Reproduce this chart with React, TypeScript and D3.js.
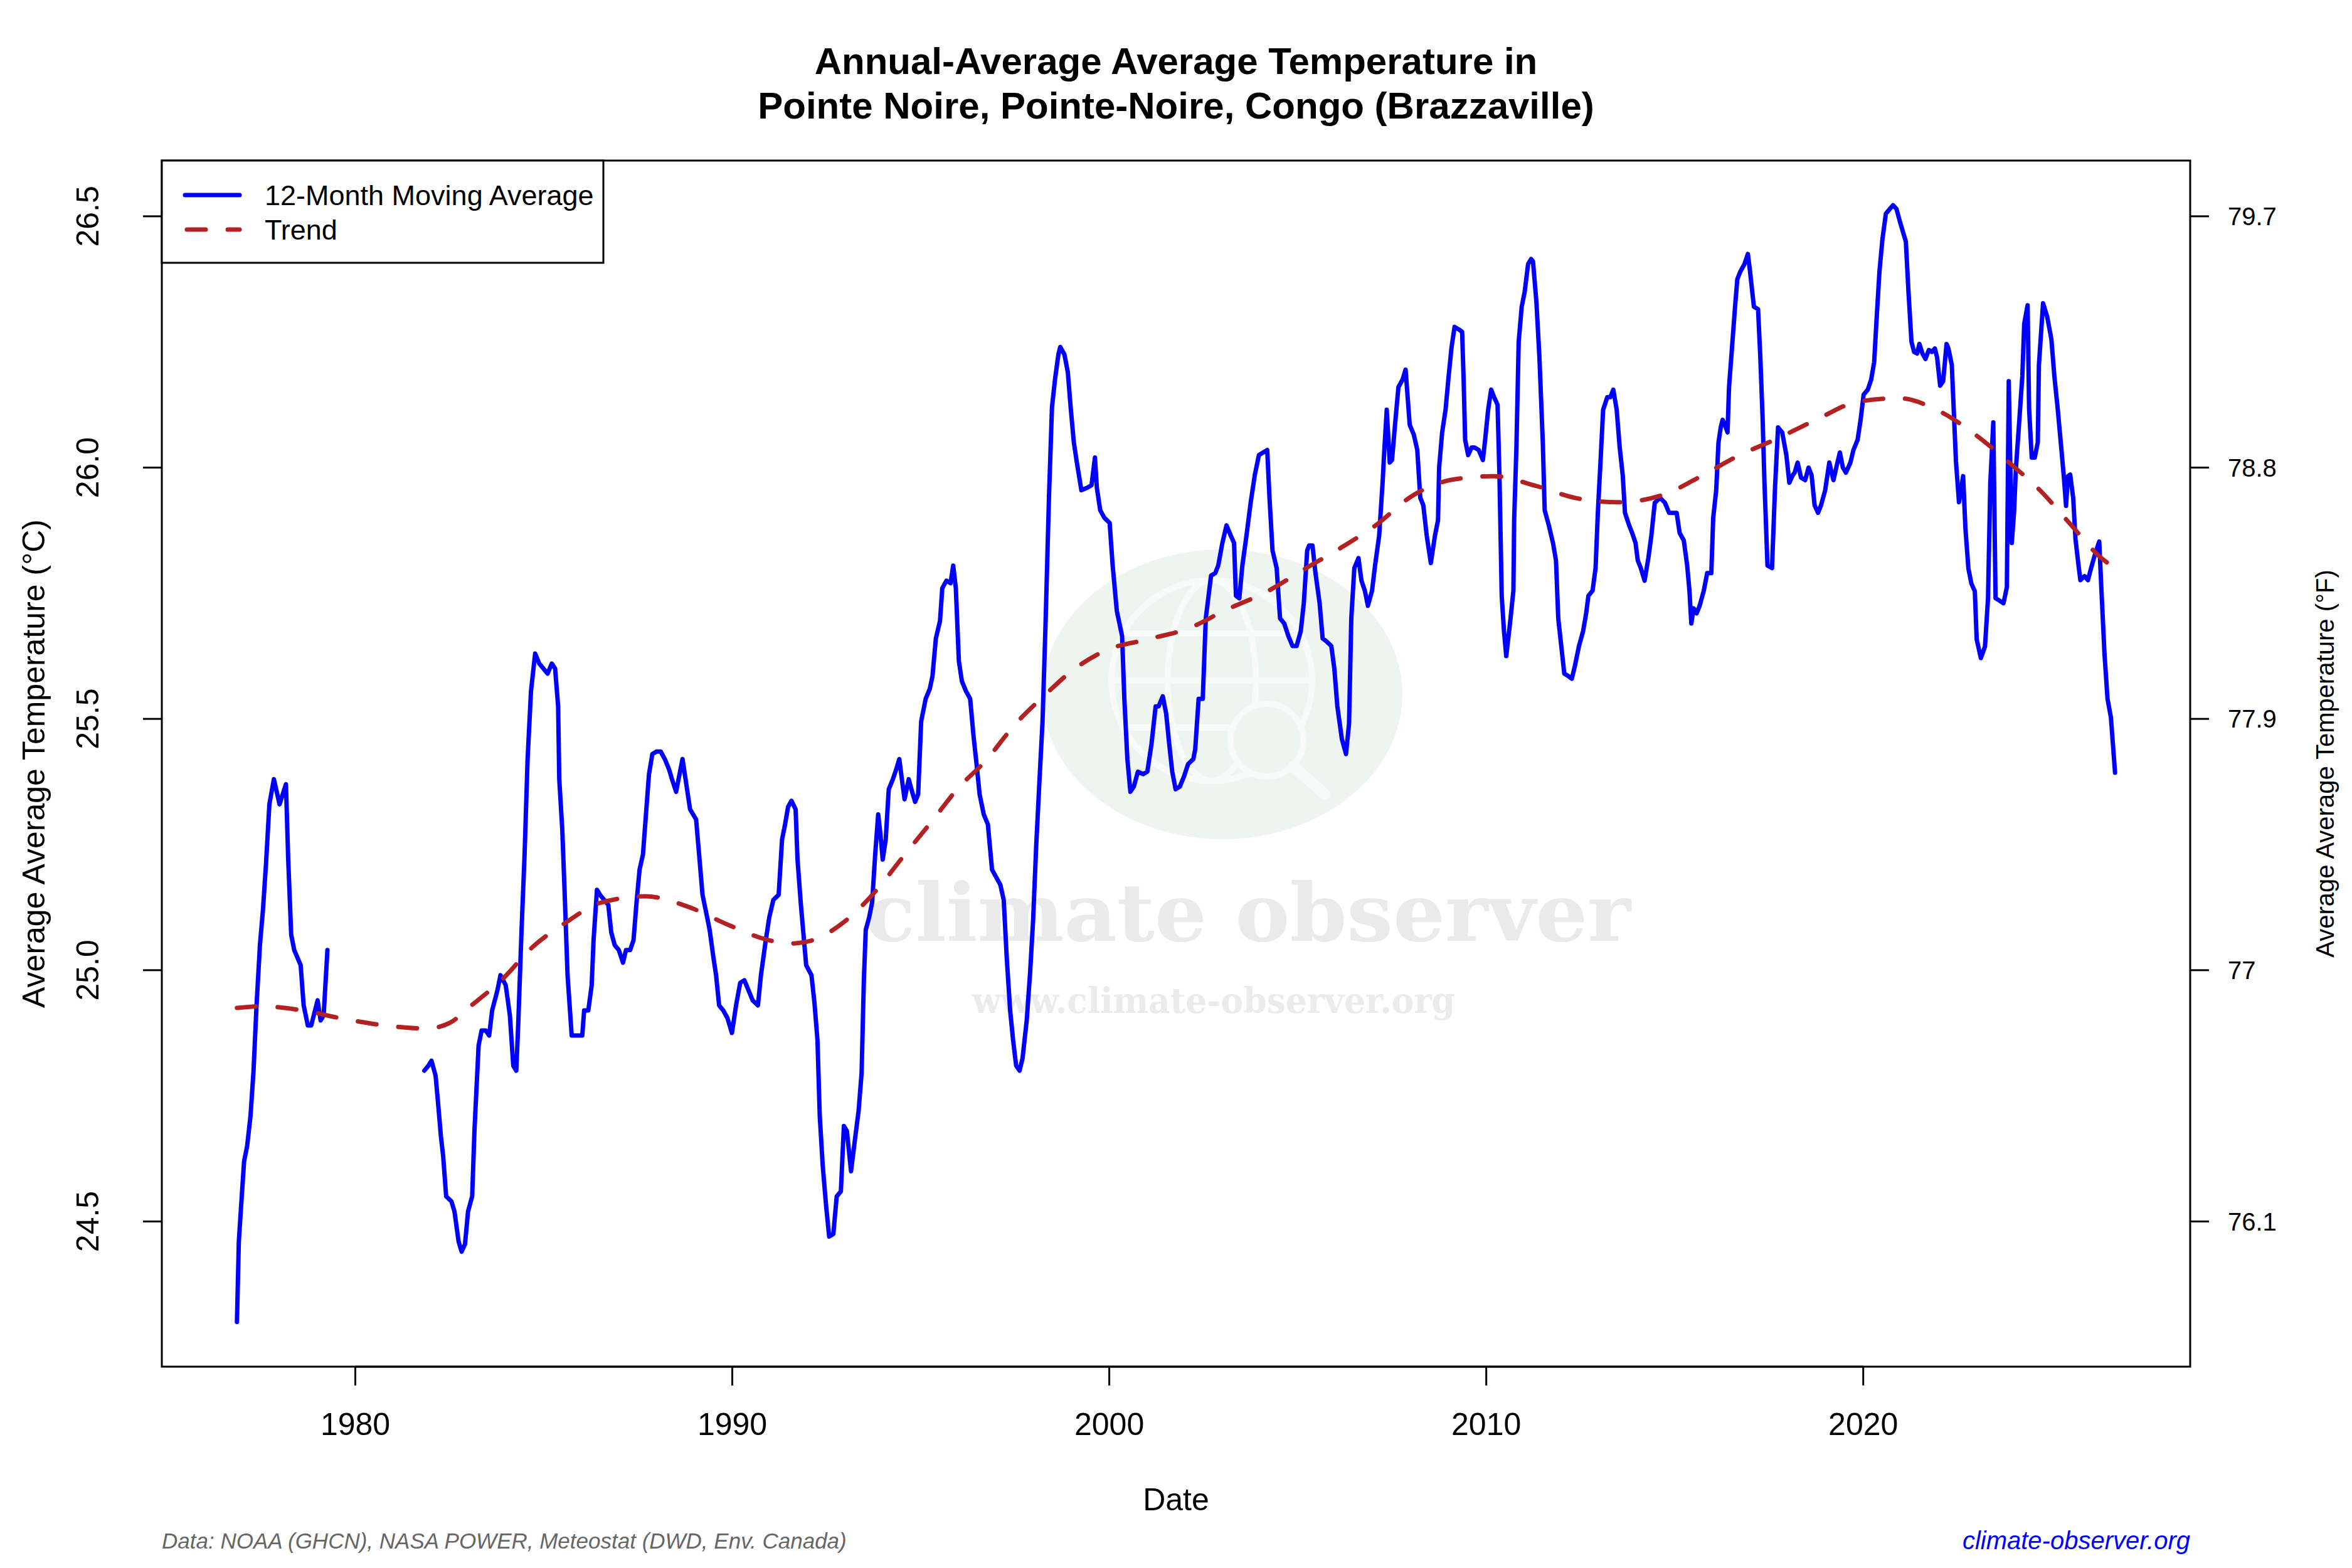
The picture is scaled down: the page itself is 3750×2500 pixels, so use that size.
import React from 'react';
import * as d3 from 'd3';

// 12-month moving average: [decimal year, °C]
const ma1977 = [
  [1976.86, 24.30], [1976.91, 24.46], [1976.97, 24.53], [1977.05, 24.62], [1977.13, 24.65], [1977.22, 24.71],
  [1977.30, 24.80], [1977.38, 24.93], [1977.47, 25.05], [1977.55, 25.12], [1977.63, 25.21], [1977.72, 25.33],
  [1977.84, 25.38], [1977.99, 25.33], [1978.16, 25.37], [1978.22, 25.22], [1978.30, 25.07], [1978.38, 25.04],
  [1978.55, 25.01], [1978.63, 24.93], [1978.74, 24.89], [1978.83, 24.89], [1979.00, 24.94], [1979.08, 24.90],
  [1979.16, 24.91], [1979.26, 25.04]
];

const ma1980s = [
  [1981.83, 24.80], [1981.94, 24.81], [1982.02, 24.82], [1982.13, 24.79], [1982.19, 24.74], [1982.27, 24.67],
  [1982.33, 24.63], [1982.41, 24.55], [1982.55, 24.54], [1982.63, 24.52], [1982.74, 24.46], [1982.82, 24.44],
  [1982.91, 24.455], [1982.99, 24.52], [1983.10, 24.55], [1983.16, 24.68], [1983.27, 24.85], [1983.35, 24.88],
  [1983.46, 24.88], [1983.55, 24.87], [1983.63, 24.92], [1983.77, 24.96], [1983.85, 24.99], [1983.99, 24.97],
  [1984.10, 24.91], [1984.19, 24.81], [1984.27, 24.80], [1984.32, 24.89], [1984.41, 25.08], [1984.49, 25.23],
  [1984.57, 25.42], [1984.66, 25.555], [1984.77, 25.63], [1984.88, 25.61], [1984.99, 25.60], [1985.10, 25.59],
  [1985.21, 25.61], [1985.30, 25.60], [1985.38, 25.525], [1985.41, 25.38], [1985.49, 25.28], [1985.55, 25.16],
  [1985.63, 24.99], [1985.74, 24.87], [1985.91, 24.87], [1986.02, 24.87], [1986.07, 24.92], [1986.18, 24.92],
  [1986.27, 24.97], [1986.32, 25.06], [1986.41, 25.16], [1986.49, 25.15], [1986.60, 25.14], [1986.71, 25.13],
  [1986.79, 25.075], [1986.88, 25.05], [1986.99, 25.04], [1987.10, 25.015], [1987.18, 25.04], [1987.29, 25.04],
  [1987.38, 25.06], [1987.46, 25.135], [1987.54, 25.20], [1987.63, 25.23], [1987.71, 25.31], [1987.79, 25.39],
  [1987.88, 25.43], [1987.99, 25.435], [1988.10, 25.435], [1988.21, 25.42], [1988.32, 25.40], [1988.40, 25.38],
  [1988.51, 25.355], [1988.60, 25.39], [1988.68, 25.42], [1988.76, 25.38], [1988.88, 25.32], [1988.96, 25.31],
  [1989.04, 25.30], [1989.12, 25.23], [1989.21, 25.15], [1989.32, 25.11], [1989.40, 25.08], [1989.49, 25.03],
  [1989.57, 24.99], [1989.65, 24.93], [1989.76, 24.92], [1989.87, 24.905], [1989.99, 24.875]
];

const ma1990s = [
  [1990.10, 24.93], [1990.21, 24.975], [1990.32, 24.98], [1990.43, 24.96], [1990.54, 24.94], [1990.68, 24.93],
  [1990.76, 24.99], [1990.87, 25.05], [1990.98, 25.105], [1991.09, 25.14], [1991.23, 25.15], [1991.32, 25.26],
  [1991.40, 25.29], [1991.48, 25.325], [1991.57, 25.337], [1991.68, 25.32], [1991.73, 25.22], [1991.82, 25.13],
  [1991.96, 25.01], [1992.10, 24.99], [1992.18, 24.935], [1992.26, 24.86], [1992.32, 24.71], [1992.40, 24.61],
  [1992.49, 24.53], [1992.57, 24.47], [1992.68, 24.475], [1992.77, 24.55], [1992.88, 24.56], [1992.96, 24.69],
  [1993.04, 24.68], [1993.15, 24.60], [1993.24, 24.655], [1993.35, 24.72], [1993.43, 24.795], [1993.49, 24.98],
  [1993.54, 25.08], [1993.63, 25.105], [1993.71, 25.135], [1993.79, 25.23], [1993.87, 25.31], [1993.93, 25.27],
  [1993.99, 25.22], [1994.07, 25.26], [1994.15, 25.36], [1994.26, 25.38], [1994.35, 25.40], [1994.43, 25.42],
  [1994.49, 25.385], [1994.57, 25.34], [1994.68, 25.38], [1994.77, 25.355], [1994.85, 25.335], [1994.93, 25.35],
  [1995.01, 25.495], [1995.13, 25.54], [1995.24, 25.56], [1995.31, 25.585], [1995.40, 25.66], [1995.51, 25.695],
  [1995.57, 25.76], [1995.68, 25.775], [1995.79, 25.77], [1995.86, 25.805], [1995.93, 25.76], [1996.01, 25.615],
  [1996.09, 25.575], [1996.20, 25.555], [1996.31, 25.54], [1996.40, 25.465], [1996.48, 25.41], [1996.56, 25.35],
  [1996.67, 25.31], [1996.78, 25.29], [1996.89, 25.20], [1997.00, 25.185], [1997.11, 25.17], [1997.20, 25.14],
  [1997.28, 25.025], [1997.37, 24.92], [1997.45, 24.86], [1997.53, 24.81], [1997.62, 24.80], [1997.70, 24.825],
  [1997.81, 24.90], [1997.90, 24.995], [1997.98, 25.10], [1998.06, 25.245], [1998.15, 25.38], [1998.23, 25.495],
  [1998.31, 25.69], [1998.40, 25.94], [1998.48, 26.12], [1998.56, 26.175], [1998.65, 26.225], [1998.70, 26.24],
  [1998.81, 26.225], [1998.90, 26.19], [1998.98, 26.116], [1999.06, 26.05], [1999.14, 26.01], [1999.26, 25.955],
  [1999.42, 25.96], [1999.53, 25.965], [1999.62, 26.02], [1999.67, 25.96], [1999.76, 25.915], [1999.87, 25.90]
];

const ma2000s = [
  [2000.01, 25.89], [2000.09, 25.805], [2000.20, 25.715], [2000.34, 25.665], [2000.40, 25.54], [2000.48, 25.42],
  [2000.56, 25.355], [2000.65, 25.365], [2000.76, 25.395], [2000.90, 25.39], [2001.01, 25.395], [2001.12, 25.45],
  [2001.23, 25.525], [2001.31, 25.525], [2001.42, 25.545], [2001.51, 25.51], [2001.59, 25.45], [2001.67, 25.395],
  [2001.76, 25.36], [2001.87, 25.365], [2001.98, 25.385], [2002.09, 25.41], [2002.23, 25.42], [2002.28, 25.44],
  [2002.37, 25.54], [2002.48, 25.54], [2002.56, 25.70], [2002.70, 25.785], [2002.81, 25.79], [2002.89, 25.805],
  [2003.00, 25.85], [2003.11, 25.885], [2003.22, 25.865], [2003.31, 25.85], [2003.36, 25.745], [2003.45, 25.74],
  [2003.53, 25.805], [2003.64, 25.865], [2003.75, 25.93], [2003.86, 25.985], [2003.97, 26.025], [2004.08, 26.03],
  [2004.19, 26.035], [2004.25, 25.94], [2004.33, 25.835], [2004.44, 25.80], [2004.53, 25.70], [2004.64, 25.69],
  [2004.75, 25.665], [2004.86, 25.645], [2004.97, 25.645], [2005.08, 25.675], [2005.16, 25.73], [2005.25, 25.835],
  [2005.30, 25.845], [2005.39, 25.845], [2005.47, 25.79], [2005.58, 25.73], [2005.66, 25.66], [2005.75, 25.655],
  [2005.89, 25.645], [2005.97, 25.60], [2006.05, 25.525], [2006.17, 25.46], [2006.28, 25.43], [2006.36, 25.49],
  [2006.42, 25.70], [2006.50, 25.80], [2006.61, 25.82], [2006.69, 25.775], [2006.78, 25.755], [2006.86, 25.725],
  [2006.97, 25.755], [2007.05, 25.805], [2007.16, 25.865], [2007.25, 25.97], [2007.30, 26.04], [2007.36, 26.115],
  [2007.44, 26.01], [2007.50, 26.015], [2007.58, 26.085], [2007.67, 26.16], [2007.78, 26.175], [2007.86, 26.195],
  [2007.97, 26.085], [2008.08, 26.065], [2008.17, 26.035], [2008.25, 25.94], [2008.33, 25.925], [2008.42, 25.865],
  [2008.53, 25.81], [2008.64, 25.865], [2008.72, 25.895], [2008.75, 26.0], [2008.83, 26.07], [2008.92, 26.115],
  [2009.00, 26.18], [2009.08, 26.24], [2009.16, 26.28], [2009.27, 26.275], [2009.36, 26.27], [2009.40, 26.175],
  [2009.44, 26.055], [2009.52, 26.025], [2009.61, 26.04], [2009.69, 26.04], [2009.80, 26.035], [2009.91, 26.015]
];

const ma2010s = [
  [2009.97, 26.055], [2010.05, 26.115], [2010.13, 26.155], [2010.21, 26.14], [2010.30, 26.125], [2010.35, 25.985],
  [2010.41, 25.745], [2010.47, 25.675], [2010.53, 25.625], [2010.63, 25.69], [2010.72, 25.755], [2010.74, 25.895],
  [2010.80, 26.04], [2010.86, 26.25], [2010.94, 26.32], [2011.02, 26.35], [2011.11, 26.405], [2011.19, 26.415],
  [2011.24, 26.41], [2011.33, 26.33], [2011.41, 26.22], [2011.50, 26.05], [2011.55, 25.915], [2011.66, 25.885],
  [2011.77, 25.85], [2011.85, 25.815], [2011.91, 25.70], [2011.99, 25.645], [2012.07, 25.59], [2012.18, 25.585],
  [2012.27, 25.58], [2012.35, 25.605], [2012.46, 25.645], [2012.57, 25.675], [2012.65, 25.71], [2012.71, 25.745],
  [2012.82, 25.755], [2012.90, 25.80], [2012.96, 25.91], [2013.04, 26.025], [2013.10, 26.115], [2013.21, 26.14],
  [2013.29, 26.14], [2013.37, 26.155], [2013.46, 26.115], [2013.54, 26.04], [2013.62, 25.985], [2013.68, 25.91],
  [2013.79, 25.885], [2013.87, 25.87], [2013.96, 25.85], [2014.02, 25.815], [2014.10, 25.80], [2014.20, 25.775],
  [2014.30, 25.82], [2014.38, 25.865], [2014.47, 25.93], [2014.61, 25.94], [2014.74, 25.93], [2014.85, 25.91],
  [2014.94, 25.91], [2015.05, 25.91], [2015.13, 25.87], [2015.24, 25.855], [2015.33, 25.805], [2015.39, 25.755],
  [2015.44, 25.69], [2015.50, 25.72], [2015.58, 25.71], [2015.66, 25.725], [2015.77, 25.755], [2015.86, 25.79],
  [2015.97, 25.79], [2016.02, 25.90], [2016.10, 25.955], [2016.16, 26.05], [2016.22, 26.08], [2016.27, 26.095],
  [2016.33, 26.085], [2016.40, 26.07], [2016.44, 26.16], [2016.52, 26.24], [2016.60, 26.32], [2016.66, 26.375],
  [2016.74, 26.39], [2016.85, 26.405], [2016.94, 26.425], [2016.99, 26.395], [2017.10, 26.32], [2017.21, 26.315],
  [2017.27, 26.22], [2017.33, 26.10], [2017.38, 25.97], [2017.46, 25.805], [2017.58, 25.80], [2017.66, 25.96],
  [2017.74, 26.08], [2017.85, 26.07], [2017.96, 26.025], [2018.04, 25.97], [2018.13, 25.985], [2018.18, 25.99],
  [2018.26, 26.01], [2018.35, 25.98], [2018.46, 25.975], [2018.55, 26.0], [2018.63, 25.985], [2018.71, 25.925],
  [2018.80, 25.91], [2018.88, 25.925], [2018.99, 25.955], [2019.10, 26.01], [2019.21, 25.975], [2019.30, 26.005],
  [2019.38, 26.03], [2019.46, 26.0], [2019.54, 25.99], [2019.66, 26.01], [2019.74, 26.035], [2019.85, 26.055],
  [2019.93, 26.095]
];

const ma2020s = [
  [2020.01, 26.145], [2020.12, 26.155], [2020.21, 26.175], [2020.29, 26.21], [2020.35, 26.29], [2020.43, 26.39],
  [2020.51, 26.455], [2020.60, 26.505], [2020.71, 26.515], [2020.79, 26.522], [2020.88, 26.515], [2020.99, 26.485],
  [2021.07, 26.465], [2021.13, 26.45], [2021.20, 26.35], [2021.28, 26.25], [2021.35, 26.23], [2021.43, 26.227],
  [2021.49, 26.246], [2021.57, 26.227], [2021.65, 26.216], [2021.74, 26.234], [2021.82, 26.23], [2021.90, 26.237],
  [2021.96, 26.219], [2022.04, 26.163], [2022.12, 26.172], [2022.21, 26.246], [2022.26, 26.237], [2022.35, 26.204],
  [2022.40, 26.116], [2022.46, 26.012], [2022.54, 25.931], [2022.65, 25.983], [2022.71, 25.88], [2022.79, 25.799],
  [2022.87, 25.769], [2022.96, 25.754], [2023.01, 25.658], [2023.12, 25.621], [2023.23, 25.644], [2023.31, 25.74],
  [2023.37, 25.968], [2023.45, 26.09], [2023.51, 25.74], [2023.62, 25.735], [2023.72, 25.73], [2023.81, 25.762],
  [2023.86, 26.172], [2023.94, 25.85], [2024.00, 25.91], [2024.05, 25.998], [2024.14, 26.094], [2024.22, 26.182],
  [2024.27, 26.286], [2024.36, 26.323], [2024.40, 26.116], [2024.47, 26.02], [2024.55, 26.02], [2024.63, 26.05],
  [2024.66, 26.204], [2024.77, 26.327], [2024.88, 26.30], [2024.99, 26.256], [2025.07, 26.182], [2025.16, 26.116],
  [2025.24, 26.05], [2025.32, 25.983], [2025.38, 25.924], [2025.43, 25.983], [2025.49, 25.986], [2025.57, 25.939],
  [2025.63, 25.858], [2025.71, 25.806], [2025.76, 25.776], [2025.87, 25.784], [2025.96, 25.776], [2026.04, 25.799],
  [2026.15, 25.828], [2026.26, 25.853], [2026.32, 25.754], [2026.40, 25.629], [2026.48, 25.54], [2026.57, 25.503],
  [2026.68, 25.393]
];

// smoothed trend (dashed)
const trend = [
  [1976.86, 24.925], [1977.5, 24.928], [1978.6, 24.92], [1979.7, 24.903], [1980.8, 24.89], [1981.9, 24.884],
  [1982.5, 24.895], [1983.05, 24.928], [1983.9, 24.982], [1984.7, 25.046], [1985.55, 25.093], [1986.5, 25.134],
  [1987.7, 25.147], [1988.8, 25.127], [1989.9, 25.09], [1990.9, 25.061], [1991.5, 25.053], [1992.0, 25.057],
  [1993.0, 25.098], [1993.8, 25.157], [1994.5, 25.223], [1995.3, 25.297], [1996.0, 25.363], [1996.7, 25.415],
  [1997.5, 25.489], [1998.3, 25.548], [1999.0, 25.595], [1999.9, 25.636], [2001.0, 25.658], [2002.1, 25.68],
  [2003.1, 25.717], [2004.2, 25.754], [2005.2, 25.799], [2006.2, 25.843], [2007.1, 25.887], [2008.0, 25.942],
  [2009.1, 25.976], [2010.2, 25.983], [2011.3, 25.964], [2012.4, 25.939], [2013.5, 25.931], [2014.7, 25.946],
  [2015.7, 25.983], [2016.7, 26.024], [2017.7, 26.057], [2018.8, 26.097], [2019.85, 26.131], [2020.95, 26.138],
  [2022.0, 26.113], [2023.0, 26.064], [2023.9, 26.008], [2024.7, 25.954], [2025.5, 25.887], [2026.3, 25.821],
  [2026.68, 25.80]
];

const xTicks = [1980, 1990, 2000, 2010, 2020];
const yTicks = [24.5, 25, 25.5, 26, 26.5];

const W = 3750, H = 2500;
const plot = { left: 258, right: 3492, top: 256, bottom: 2179 };
const font = 'Liberation Sans, Arial, Helvetica, sans-serif';

const toF = (c: number) => String(+(c * 1.8 + 32).toFixed(1));

export default function App() {
  const all = [...ma1977, ...ma1980s, ...ma1990s, ...ma2000s, ...ma2010s, ...ma2020s];

  // R-style 4% padding on both axes
  const xExt = d3.extent(all, d => d[0]) as [number, number];
  const yExt = d3.extent(all, d => d[1]) as [number, number];
  const xPad = (xExt[1] - xExt[0]) * 0.04;
  const yPad = (yExt[1] - yExt[0]) * 0.04;

  const x = d3.scaleLinear().domain([xExt[0] - xPad, xExt[1] + xPad]).range([plot.left, plot.right]);
  const y = d3.scaleLinear().domain([yExt[0] - yPad, yExt[1] + yPad]).range([plot.bottom, plot.top]);

  const line = d3.line<number[]>().x(d => x(d[0])).y(d => y(d[1]));
  const trendLine = d3.line<number[]>().x(d => x(d[0])).y(d => y(d[1])).curve(d3.curveMonotoneX);

  const segments = [ma1977, [...ma1980s, ...ma1990s, ...ma2000s, ...ma2010s, ...ma2020s]];
  const midX = (plot.left + plot.right) / 2;
  const midY = (plot.top + plot.bottom) / 2;

  return (
    <svg width={W} height={H} style={{ position: 'absolute', left: 0, top: 0, background: '#fff' }}>
      <rect width={W} height={H} fill="#fff" />

      {/* watermark */}
      <g>
        <ellipse cx={1949} cy={1107} rx={287} ry={231} fill="#EEF4F0" />
        <g fill="none" stroke="#fff" strokeWidth={10} opacity={0.55}>
          <circle cx={1932} cy={1085} r={160} />
          <ellipse cx={1932} cy={1085} rx={70} ry={160} />
          <line x1={1772} y1={1085} x2={2092} y2={1085} />
          <line x1={1795} y1={1010} x2={2069} y2={1010} />
          <line x1={1795} y1={1160} x2={2069} y2={1160} />
          <circle cx={2020} cy={1180} r={58} fill="#EEF4F0" />
          <line x1={2062} y1={1222} x2={2112} y2={1266} strokeWidth={18} strokeLinecap="round" />
        </g>
        <text x={1990} y={1500} textAnchor="middle" fontFamily="DejaVu Serif, serif" fontWeight="bold"
          fontSize={128} fill="#EAEAEA" textLength={1220} lengthAdjust="spacingAndGlyphs">climate observer</text>
        <text x={1935} y={1615} textAnchor="middle" fontFamily="DejaVu Serif, serif" fontWeight="bold"
          fontSize={56} fill="#EBEBEB" textLength={770} lengthAdjust="spacingAndGlyphs">www.climate-observer.org</text>
      </g>

      {/* series */}
      {segments.map((s, i) => (
        <path key={'ma' + i} d={line(s) || ''} fill="none" stroke="#0000FF" strokeWidth={7}
          strokeLinejoin="round" strokeLinecap="round" />
      ))}
      <path d={trendLine(trend) || ''} fill="none" stroke="#B22222" strokeWidth={7}
        strokeDasharray="30 35" strokeLinecap="round" />

      {/* box */}
      <rect x={plot.left} y={plot.top} width={plot.right - plot.left} height={plot.bottom - plot.top}
        fill="none" stroke="#000" strokeWidth={3} />

      {/* bottom axis */}
      <line x1={x(xTicks[0])} x2={x(xTicks[xTicks.length - 1])} y1={plot.bottom} y2={plot.bottom} stroke="#000" strokeWidth={3} />
      {xTicks.map(t => (
        <g key={'x' + t}>
          <line x1={x(t)} x2={x(t)} y1={plot.bottom} y2={plot.bottom + 30} stroke="#000" strokeWidth={3} />
          <text x={x(t)} y={2288} textAnchor="middle" fontFamily={font} fontSize={50}>{t}</text>
        </g>
      ))}

      {/* left axis (°C) */}
      {yTicks.map(t => (
        <g key={'y' + t}>
          <line x1={plot.left} x2={plot.left - 30} y1={y(t)} y2={y(t)} stroke="#000" strokeWidth={3} />
          <text transform={`translate(157,${y(t)}) rotate(-90)`} textAnchor="middle" fontFamily={font} fontSize={50}>
            {t.toFixed(1)}
          </text>
        </g>
      ))}

      {/* right axis (°F) */}
      {yTicks.map(t => (
        <g key={'f' + t}>
          <line x1={plot.right} x2={plot.right + 30} y1={y(t)} y2={y(t)} stroke="#000" strokeWidth={3} />
          <text x={3552} y={y(t) + 14} fontFamily={font} fontSize={40}>{toF(t)}</text>
        </g>
      ))}

      {/* titles */}
      <text x={midX} y={118} textAnchor="middle" fontFamily={font} fontWeight="bold" fontSize={60}>
        Annual-Average Average Temperature in
      </text>
      <text x={midX} y={189} textAnchor="middle" fontFamily={font} fontWeight="bold" fontSize={60}>
        Pointe Noire, Pointe-Noire, Congo (Brazzaville)
      </text>
      <text x={midX} y={2408} textAnchor="middle" fontFamily={font} fontSize={50}>Date</text>
      <text transform={`translate(71,${midY}) rotate(-90)`} textAnchor="middle" fontFamily={font} fontSize={50}>
        Average Average Temperature (°C)
      </text>
      <text transform={`translate(3721,${midY}) rotate(-90)`} textAnchor="middle" fontFamily={font} fontSize={40}>
        Average Average Temperature (°F)
      </text>

      {/* legend */}
      <g>
        <rect x={plot.left} y={plot.top} width={704} height={163} fill="#fff" stroke="#000" strokeWidth={3} />
        <line x1={295} x2={382} y1={311} y2={311} stroke="#0000FF" strokeWidth={7} strokeLinecap="round" />
        <line x1={298} x2={382} y1={366} y2={366} stroke="#B22222" strokeWidth={7} strokeDasharray="30 35"
          strokeLinecap="round" />
        <text x={422} y={327} fontFamily={font} fontSize={45}>12-Month Moving Average</text>
        <text x={422} y={382} fontFamily={font} fontSize={45}>Trend</text>
      </g>

      {/* footer */}
      <text x={plot.left} y={2469} fontFamily={font} fontStyle="italic" fontSize={35} fill="#666666">
        Data: NOAA (GHCN), NASA POWER, Meteostat (DWD, Env. Canada)
      </text>
      <text x={plot.right} y={2470} textAnchor="end" fontFamily={font} fontStyle="italic" fontSize={40} fill="#0000FF">
        climate-observer.org
      </text>
    </svg>
  );
}
